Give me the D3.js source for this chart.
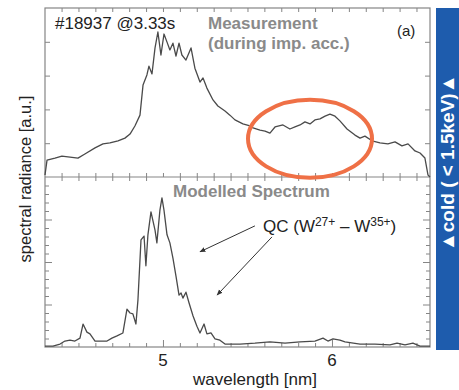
<!DOCTYPE html>
<html>
<head>
<meta charset="utf-8">
<script src="https://cdn.jsdelivr.net/npm/d3@7"></script>
<style>
  body { margin: 0; background: #fff; }
  svg { display: block; font-family: "Liberation Sans", Arial, Helvetica, sans-serif; }
</style>
</head>
<body>
<svg id="svg" width="459" height="390"></svg>
<script>
// wavelength [nm] / radiance [a.u.]
const measWave = [4.302, 4.314, 4.361, 4.402, 4.45, 4.497, 4.538, 4.598, 4.645, 4.686, 4.734, 4.775, 4.805, 4.834, 4.864,
  4.882, 4.905, 4.917, 4.935, 4.953, 4.97, 4.988, 5.006, 5.024, 5.041, 5.059, 5.077, 5.095, 5.112, 5.136, 5.166,
  5.189, 5.219, 5.237, 5.26, 5.296, 5.325, 5.367, 5.396, 5.426, 5.473, 5.515, 5.533, 5.574, 5.604, 5.633, 5.663,
  5.71, 5.751, 5.781, 5.811, 5.84, 5.87, 5.899, 5.929, 5.959, 5.988, 6.018, 6.047, 6.089, 6.136, 6.166, 6.195,
  6.237, 6.284, 6.331, 6.373, 6.414, 6.45, 6.491, 6.521, 6.55, 6.568, 6.58];
const measValue = [0.06, 0.5, 0.56, 0.62, 0.59, 0.56, 0.68, 0.86, 0.98, 1.01, 1.07, 1.15, 1.27, 1.51, 1.83,
  2.72, 3.02, 3.28, 3.05, 3.82, 4.29, 3.61, 4.23, 3.99, 3.76, 3.96, 3.58, 3.96, 3.61, 3.46, 3.82,
  3.22, 2.81, 2.93, 2.63, 2.28, 2.1, 1.95, 1.83, 1.69, 1.57, 1.51, 1.45, 1.39, 1.36, 1.3, 1.48,
  1.54, 1.42, 1.48, 1.54, 1.63, 1.57, 1.69, 1.72, 1.8, 1.86, 1.8, 1.66, 1.42, 1.24, 1.15, 1.21,
  1.07, 1.01, 0.98, 1.04, 0.92, 0.98, 0.77, 0.71, 0.56, 0.06, 0.0];

const modelWave = [4.302, 4.349, 4.391, 4.42, 4.45, 4.479, 4.509, 4.527, 4.55, 4.568, 4.598, 4.669, 4.698, 4.728,
  4.763, 4.787, 4.805, 4.822, 4.84, 4.852, 4.87, 4.888, 4.899, 4.911, 4.929, 4.953, 4.964, 4.982, 4.994, 5.006,
  5.024, 5.041, 5.059, 5.077, 5.095, 5.107, 5.118, 5.136, 5.154, 5.178, 5.201, 5.219, 5.243, 5.26, 5.284, 5.308,
  5.337, 5.367, 5.456, 5.544, 5.633, 5.722, 5.811, 5.899, 5.947, 5.976, 6.006, 6.047, 6.077, 6.166, 6.254, 6.343,
  6.385, 6.432, 6.479, 6.521, 6.58];
const modelValue = [0.02, 0.02, 0.07, 0.14, 0.16, 0.14, 0.21, 0.54, 0.35, 0.31, 0.14, 0.14, 0.21, 0.26,
  0.33, 0.89, 0.8, 0.78, 0.54, 1.11, 2.52, 2.61, 1.91, 2.64, 3.18, 2.75, 2.45, 3.22, 3.51, 3.22,
  2.64, 2.45, 2.09, 1.67, 1.22, 1.27, 1.15, 1.29, 1.04, 0.73, 0.49, 0.33, 0.54, 0.31, 0.33, 0.19,
  0.16, 0.07, 0.07, 0.09, 0.12, 0.09, 0.12, 0.14, 0.21, 0.14, 0.19, 0.16, 0.12, 0.07, 0.07, 0.05,
  0.09, 0.05, 0.09, 0.02, 0.02];

const xMajorTicks = [5, 6];
const upperYTicks = [1, 2, 3, 4];
const lowerYMajor = [1, 2, 3];

// arrows of the QC annotation, [from, to] in lower panel data units
const arrows = [
  [[5.544, 2.85], [5.219, 2.24]],
  [[5.645, 2.59], [5.320, 1.22]]
];

const svg = d3.select("svg");
const pLeft = 45, pRight = 430, pTop = 8, pMid = 177, pBottom = 347;
const frameColor = "#858585";

const x = d3.scaleLinear().domain([4.302, 6.58]).range([pLeft, pRight]);
const yUp = d3.scaleLinear().domain([0, 5]).range([pMid, pTop]);
const yLow = d3.scaleLinear().domain([0, 4]).range([pBottom, pMid]);

const xMinor = d3.range(43, 66).map(d => d / 10).filter(d => d >= 4.31 && d <= 6.57 && d !== 5 && d !== 6);
const lowMinor = d3.range(1, 20).map(d => d * 0.2).filter(d => Math.abs(d - Math.round(d)) > 0.01);

// blue side band
svg.append("rect").attr("x", 436).attr("y", pTop).attr("width", 30).attr("height", 342)
  .attr("fill", "#1e5cad");
svg.append("text").attr("transform", "translate(454,251) rotate(-90)")
  .attr("fill", "#fff").style("font-size", "19px").style("font-weight", "bold")
  .text("\u25B2cold ( < 1.5keV)\u25B2");

function axis(gen, tx, ty, size, values) {
  const g = svg.append("g").attr("transform", `translate(${tx},${ty})`)
    .call(gen.tickValues(values).tickSize(size).tickFormat(""));
  g.select(".domain").remove();
  g.selectAll("line").attr("stroke", frameColor);
  return g;
}

// upper panel ticks
axis(d3.axisTop(x), 0, pTop, -4, xMinor.concat(xMajorTicks));
axis(d3.axisBottom(x), 0, pMid, -4, xMinor.concat(xMajorTicks));
axis(d3.axisLeft(yUp), pLeft, 0, -5, upperYTicks);
axis(d3.axisRight(yUp), pRight, 0, -5, upperYTicks);

// lower panel ticks
axis(d3.axisTop(x), 0, pMid, -4, xMinor);
axis(d3.axisBottom(x), 0, pBottom, -4, xMinor);
axis(d3.axisBottom(x), 0, pBottom, -7, xMajorTicks);
axis(d3.axisLeft(yLow), pLeft, 0, -4, lowMinor);
axis(d3.axisLeft(yLow), pLeft, 0, -7, lowerYMajor);
axis(d3.axisRight(yLow), pRight, 0, -4, lowMinor);
axis(d3.axisRight(yLow), pRight, 0, -7, lowerYMajor);

// tick labels
svg.append("g").selectAll("text").data(xMajorTicks).join("text")
  .attr("x", d => x(d)).attr("y", 366).attr("text-anchor", "middle")
  .style("font-size", "17px").attr("fill", "#222").text(d => d);

// frames
svg.append("rect").attr("x", pLeft).attr("y", pTop).attr("width", pRight - pLeft).attr("height", pBottom - pTop)
  .attr("fill", "none").attr("stroke", frameColor).attr("stroke-width", 1.2);
svg.append("line").attr("x1", pLeft).attr("x2", pRight).attr("y1", pMid).attr("y2", pMid)
  .attr("stroke", frameColor).attr("stroke-width", 1.2);

// spectra
const lineUp = d3.line().x((d, i) => x(measWave[i])).y(d => yUp(d));
const lineLow = d3.line().x((d, i) => x(modelWave[i])).y(d => yLow(d));

svg.append("path").datum(measValue).attr("d", lineUp)
  .attr("fill", "none").attr("stroke", "#4a4a4a").attr("stroke-width", 1.3).attr("stroke-linejoin", "round");
svg.append("path").datum(modelValue).attr("d", lineLow)
  .attr("fill", "none").attr("stroke", "#4a4a4a").attr("stroke-width", 1.3).attr("stroke-linejoin", "round");

// texts
svg.append("text").attr("x", 55).attr("y", 29).style("font-size", "17px").attr("fill", "#222")
  .text("#18937 @3.33s");
svg.append("text").attr("x", 397).attr("y", 36).style("font-size", "15px").attr("fill", "#222").text("(a)");

const grey = "#8a8a8a";
svg.append("text").attr("x", 208).attr("y", 29).style("font-size", "17px").style("font-weight", "bold")
  .attr("fill", grey).text("Measurement");
svg.append("text").attr("x", 208).attr("y", 49).style("font-size", "17px").style("font-weight", "bold")
  .attr("fill", grey).text("(during imp. acc.)");
svg.append("text").attr("x", 173).attr("y", 197).style("font-size", "17px").style("font-weight", "bold")
  .attr("fill", grey).text("Modelled Spectrum");

const qc = svg.append("text").attr("x", 263).attr("y", 232).style("font-size", "17px").attr("fill", "#222");
qc.append("tspan").text("QC (W");
qc.append("tspan").attr("dy", -6).style("font-size", "12px").text("27+");
qc.append("tspan").attr("dy", 6).text(" \u2013 W");
qc.append("tspan").attr("dy", -6).style("font-size", "12px").text("35+");
qc.append("tspan").attr("dy", 6).text(")");

svg.append("text").attr("transform", "translate(31,179) rotate(-90)").attr("text-anchor", "middle")
  .style("font-size", "16.5px").attr("fill", "#222").text("spectral radiance [a.u.]");
svg.append("text").attr("x", 255).attr("y", 385).attr("text-anchor", "middle")
  .style("font-size", "17px").attr("fill", "#222").text("wavelength [nm]");

// arrows
svg.append("defs").append("marker").attr("id", "head")
  .attr("viewBox", "0 0 10 10").attr("refX", 9).attr("refY", 5)
  .attr("markerWidth", 6).attr("markerHeight", 6).attr("orient", "auto")
  .append("path").attr("d", "M0,1 L10,5 L0,9 Z").attr("fill", "#333");
svg.append("g").selectAll("line").data(arrows).join("line")
  .attr("x1", d => x(d[0][0])).attr("y1", d => yLow(d[0][1]))
  .attr("x2", d => x(d[1][0])).attr("y2", d => yLow(d[1][1]))
  .attr("stroke", "#333").attr("stroke-width", 1).attr("marker-end", "url(#head)");

// highlight ellipse round the 6 nm hump
svg.append("ellipse").attr("cx", x(5.87)).attr("cy", yUp(1.13)).attr("rx", 62).attr("ry", 39)
  .attr("fill", "none").attr("stroke", "#ef7046").attr("stroke-width", 4);
</script>
</body>
</html>
